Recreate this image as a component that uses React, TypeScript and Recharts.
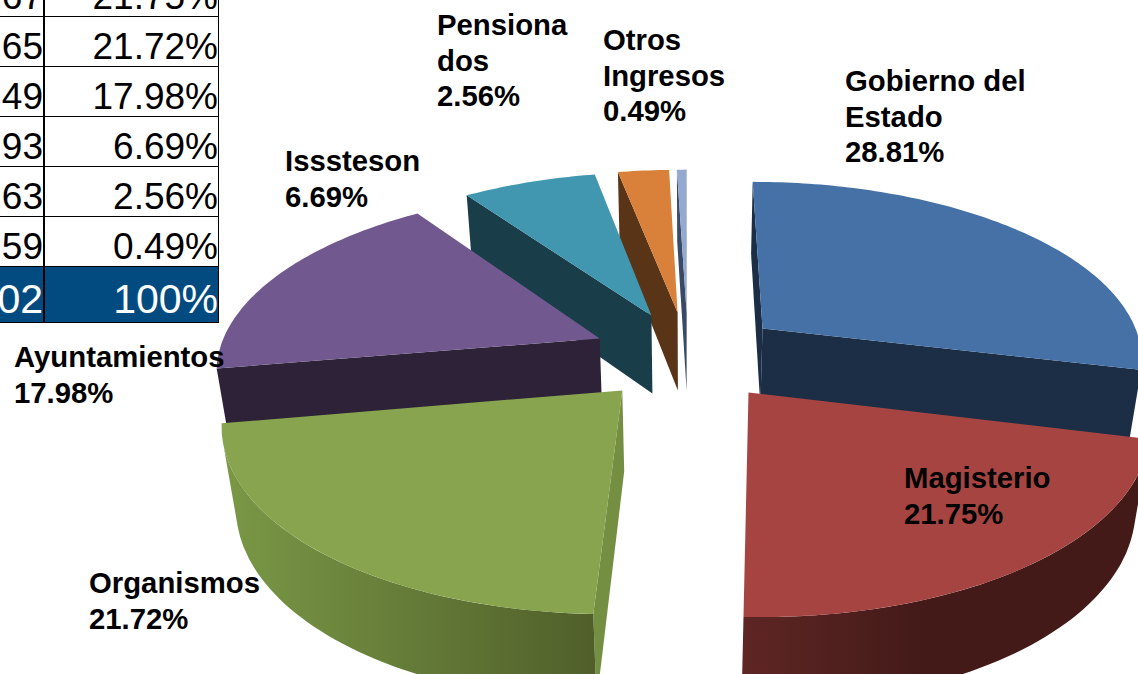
import { PieChart, Pie } from 'recharts';

// drawn back to front, counter-clockwise from the top of the pie
const sliceNames = ['Otros Ingresos', 'Pensionados', 'Issteson', 'Ayuntamientos', 'Organismos', 'Magisterio', 'Gobierno del Estado'];
const sliceValues = [0.49, 2.56, 6.69, 17.98, 21.72, 21.75, 28.81];
const labelLines = [
  ['Otros', 'Ingresos'],
  ['Pensiona', 'dos'],
  ['Isssteson'],
  ['Ayuntamientos'],
  ['Organismos'],
  ['Magisterio'],
  ['Gobierno del', 'Estado'],
];
const labelAnchors = [
  [603, 50],
  [437, 35],
  [285, 171],
  [14, 367],
  [89, 593],
  [904, 488],
  [845, 91],
];
const topColors = ['#93A9CF', '#D9813A', '#4097AF', '#71588F', '#88A44E', '#A64442', '#4571A6'];
const wallColors = ['#3A4A66', '#5A3417', '#1A3D4A', '#2D2237', '#748E42', '#4A1C1A', '#1B2E45'];
const rimFrom = ['#3A4A66', '#5A3417', '#1A3D4A', '#2D2237', '#7A9846', '#5E2624', '#1B2E45'];
const rimTo = ['#3A4A66', '#5A3417', '#1A3D4A', '#2D2237', '#505F2A', '#431A18', '#1B2E45'];
const rimStop = [1, 1, 1, 1, 1, 0.45, 1];

// table fragment cut off by the slide edge
const tableLeft = ['67', '65', '49', '93', '63', '59', '02'];
const tableRight = ['21.75%', '21.72%', '17.98%', '6.69%', '2.56%', '0.49%', '100%'];

const chartData = sliceNames.map((name, i) => ({ name, value: sliceValues[i] }));

const SQUASH = 0.4634;
const PERSPECTIVE = 0.155;
const DEPTH_SHRINK = 0.03;
const THICKNESS = 82;
const EXPLODE = 0.254;

const rad = (deg: number) => (deg * Math.PI) / 180;

function project(p: any, u: number, v: number, down: number) {
  const w = 1 + PERSPECTIVE * v + DEPTH_SHRINK * down;
  const r = p.outerRadius;
  return [p.cx + (r * u) / w, p.cy + (-r * SQUASH * v + THICKNESS * down) / w];
}

function toPath(points: number[][]) {
  return 'M' + points.map((q) => `${q[0].toFixed(1)},${q[1].toFixed(1)}`).join('L') + 'Z';
}

function area(points: number[][]) {
  let sum = 0;
  points.forEach((q, i) => {
    const n = points[(i + 1) % points.length];
    sum += q[0] * n[1] - n[0] * q[1];
  });
  return sum / 2;
}

// helpers to walk one slice in its own exploded frame
function frame(p: any) {
  const a0 = Math.min(p.startAngle, p.endAngle);
  const a1 = Math.max(p.startAngle, p.endAngle);
  const mid = rad((a0 + a1) / 2);
  const ou = EXPLODE * Math.cos(mid);
  const ov = EXPLODE * Math.sin(mid);
  const rimAt = (deg: number, down: number) => project(p, ou + Math.cos(rad(deg)), ov + Math.sin(rad(deg)), down);
  const apexAt = (down: number) => project(p, ou, ov, down);
  return { a0, a1, rimAt, apexAt };
}

function SliceWalls(p: any) {
  const { a0, a1, rimAt, apexAt } = frame(p);
  const i = sliceNames.indexOf(p.name);
  const steps = Math.max(2, Math.ceil((a1 - a0) / 1.5));
  const top: number[][] = [];
  const bottom: number[][] = [];
  for (let s = 0; s < steps; s++) {
    const d0 = a0 + ((a1 - a0) * s) / steps;
    const d1 = a0 + ((a1 - a0) * (s + 1)) / steps;
    if (area([rimAt(d0, 0), rimAt(d1, 0), rimAt(d1, 1), rimAt(d0, 1)]) > 0) {
      if (!top.length) {
        top.push(rimAt(d0, 0));
        bottom.push(rimAt(d0, 1));
      }
      top.push(rimAt(d1, 0));
      bottom.push(rimAt(d1, 1));
    }
  }
  const rim = [...top, ...bottom.reverse()];
  const xs = rim.map((q) => q[0]);
  const gradId = `rim-${i}`;
  const walls = [
    [rimAt(a1, 0), apexAt(0), apexAt(1), rimAt(a1, 1)],
    [apexAt(0), rimAt(a0, 0), rimAt(a0, 1), apexAt(1)],
  ].filter((q) => area(q) > 0);
  return (
    <g>
      {walls.map((q, k) => (
        <path key={k} d={toPath(q)} fill={wallColors[i]} />
      ))}
      {rim.length > 0 && (
        <>
          <defs>
            <linearGradient id={gradId} gradientUnits="userSpaceOnUse" x1={Math.min(...xs)} x2={Math.max(...xs)} y1={0} y2={0}>
              <stop offset={0} stopColor={rimFrom[i]} />
              <stop offset={rimStop[i]} stopColor={rimTo[i]} />
            </linearGradient>
          </defs>
          <path d={toPath(rim)} fill={`url(#${gradId})`} />
        </>
      )}
    </g>
  );
}

function SliceTop(p: any) {
  const { a0, a1, rimAt, apexAt } = frame(p);
  const i = sliceNames.indexOf(p.name);
  const pts = [apexAt(0)];
  const steps = Math.max(2, Math.ceil(a1 - a0));
  for (let s = 0; s <= steps; s++) pts.push(rimAt(a0 + ((a1 - a0) * s) / steps, 0));
  return <path d={toPath(pts)} fill={topColors[i]} />;
}

function SliceLabel(p: any) {
  const i = sliceNames.indexOf(p.name);
  const [x, y] = labelAnchors[i];
  const lines = [...labelLines[i], `${sliceValues[i].toFixed(2)}%`];
  return (
    <text x={x} y={y} fontFamily="'Liberation Sans', Arial, sans-serif" fontWeight="bold" fontSize={29.3} fill="#000" textAnchor="start">
      {lines.map((line, k) => (
        <tspan key={k} x={x} dy={k === 0 ? 0 : 35.5}>
          {line}
        </tspan>
      ))}
    </text>
  );
}

function FragmentTable() {
  return (
    <div style={{ position: 'absolute', left: 0, top: -33, width: 219, fontFamily: "'Liberation Sans', Arial, sans-serif", fontSize: 37 }}>
      {tableRight.map((right, i) => {
        const total = i === tableRight.length - 1;
        const h = total ? 56 : 50;
        const cell = {
          position: 'absolute' as const,
          top: 0,
          height: h,
          textAlign: 'right' as const,
          lineHeight: `${total ? 65 : 59}px`,
          fontSize: total ? 41 : 37,
          color: total ? '#fff' : '#000',
          boxSizing: 'border-box' as const,
        };
        return (
          <div
            key={i}
            style={{
              position: 'relative',
              height: h,
              boxSizing: 'border-box',
              background: total ? '#024B81' : '#fff',
              borderBottom: '1.5px solid #000',
              borderRight: '1.5px solid #000',
            }}
          >
            <div style={{ ...cell, left: -10, width: 53 }}>{tableLeft[i]}</div>
            <div style={{ position: 'absolute', left: 43, top: 0, width: 1.5, height: h, background: '#000' }} />
            <div style={{ ...cell, left: 60, width: 158 }}>{right}</div>
          </div>
        );
      })}
    </div>
  );
}

export default function App() {
  return (
    <div style={{ position: 'absolute', left: 0, top: 0, width: 1138, height: 674, overflow: 'hidden', background: '#fff' }}>
      <FragmentTable />
      <div style={{ position: 'absolute', left: 0, top: 0 }}>
        <PieChart width={1138} height={674} margin={{ top: 0, right: 0, bottom: 0, left: 0 }}>
          <Pie
            data={chartData}
            dataKey="value"
            nameKey="name"
            cx={688}
            cy={355.5}
            outerRadius={382}
            startAngle={90}
            endAngle={450}
            stroke="none"
            shape={SliceWalls}
            inactiveShape={SliceWalls}
            isAnimationActive={false}
          />
          <Pie
            data={chartData}
            dataKey="value"
            nameKey="name"
            cx={688}
            cy={355.5}
            outerRadius={382}
            startAngle={90}
            endAngle={450}
            stroke="none"
            shape={SliceTop}
            inactiveShape={SliceTop}
            label={SliceLabel}
            labelLine={false}
            isAnimationActive={false}
          />
        </PieChart>
      </div>
    </div>
  );
}
